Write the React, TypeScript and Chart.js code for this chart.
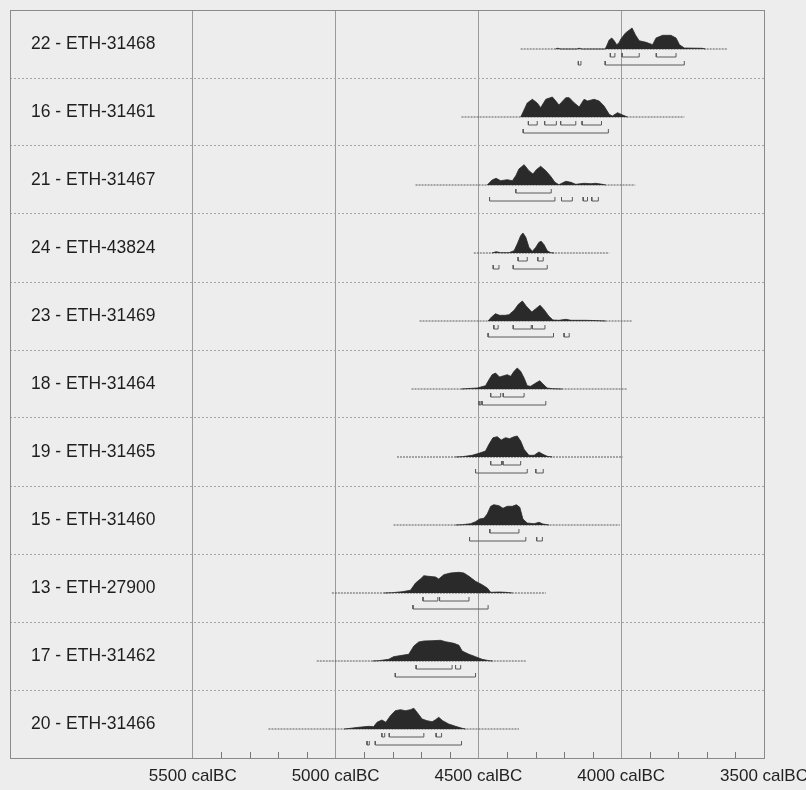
import React, { useEffect, useRef } from 'react';
import { Chart, registerables } from 'chart.js';

Chart.register(...registerables);

// ---------- data ----------
const SAMPLE_LABELS = [
  '22 - ETH-31468',
  '16 - ETH-31461',
  '21 - ETH-31467',
  '24 - ETH-43824',
  '23 - ETH-31469',
  '18 - ETH-31464',
  '19 - ETH-31465',
  '15 - ETH-31460',
  '13 - ETH-27900',
  '17 - ETH-31462',
  '20 - ETH-31466',
];

const TICK_YEARS = [5500, 5000, 4500, 4000, 3500];
const MINOR_TICK_YEARS = [5400, 5300, 5200, 5100, 4900, 4800, 4700, 4600, 4400, 4300, 4200, 4100, 3900, 3800, 3700, 3600];
const AXIS_OLDEST = 6140;
const AXIS_YOUNGEST = 3500;

// 22 - ETH-31468
const S22_YEARS = [4230, 4223, 4212, 4155, 4147, 4138, 4056, 4051, 4042, 4033, 4024, 4016, 4008, 4001, 3985, 3962, 3950, 3937, 3913, 3890, 3878, 3855, 3826, 3808, 3796, 3779, 3715, 3705];
const S22_PROB = [0, 0.8, 0, 0, 0.8, 0, 0, 3, 9, 11, 8, 4.3, 6, 10, 16, 21, 14, 8.3, 6.7, 4.3, 11, 13.7, 13.7, 11, 4.3, 1, 0.7, 0];
const S22_EXTENT = [4352, 3627];
const S22_R68 = [[4038, 4022], [3997, 3937], [3877, 3808]];
const S22_R95 = [[4150, 4141], [4056, 3779]];

// 16 - ETH-31461
const S16_YEARS = [4352, 4345, 4329, 4311, 4294, 4282, 4264, 4241, 4229, 4218, 4194, 4182, 4165, 4147, 4130, 4118, 4095, 4077, 4060, 4042, 4031, 4013, 3995, 3978];
const S16_PROB = [0, 4, 14, 17.7, 14, 9.3, 17.7, 20, 16, 12, 19.3, 19.3, 14.3, 10, 17.7, 16, 17.7, 16, 11, 2.7, 1, 4.3, 2, 0];
const S16_EXTENT = [4559, 3779];
const S16_R68 = [[4325, 4294], [4268, 4227], [4212, 4159], [4137, 4069]];
const S16_R95 = [[4343, 4045]];

// 21 - ETH-31467
const S21_YEARS = [4469, 4452, 4438, 4422, 4399, 4381, 4369, 4358, 4340, 4323, 4309, 4297, 4282, 4264, 4247, 4232, 4218, 4194, 4176, 4159, 4130, 4106, 4089, 4066, 4054];
const S21_PROB = [0, 5, 6.7, 4.3, 5.3, 4.3, 9.3, 16, 20.3, 14.3, 11, 15.3, 18.7, 14.3, 8.7, 2.7, 0.3, 3.7, 2.7, 0.7, 1.7, 1.3, 1.7, 0.7, 0];
const S21_EXTENT = [4720, 3951];
const S21_R68 = [[4369, 4245]];
const S21_R95 = [[4461, 4232], [4209, 4171], [4133, 4118], [4103, 4080]];

// 24 - ETH-43824
const S24_YEARS = [4452, 4438, 4422, 4393, 4375, 4364, 4352, 4344, 4334, 4323, 4311, 4299, 4288, 4280, 4270, 4259, 4247, 4235];
const S24_PROB = [0, 1.3, 0.3, 0.3, 2.3, 9, 17.3, 20, 15.7, 5.7, 1.7, 5.7, 10.7, 11.7, 8.3, 2.3, 0.3, 0];
const S24_EXTENT = [4516, 4042];
const S24_R68 = [[4361, 4329], [4292, 4273]];
const S24_R95 = [[4448, 4428], [4378, 4259]];

// 23 - ETH-31469
const S23_YEARS = [4466, 4454, 4440, 4426, 4407, 4393, 4375, 4360, 4346, 4332, 4313, 4299, 4284, 4270, 4253, 4239, 4218, 4194, 4176, 4124, 4077, 4054];
const S23_PROB = [0, 4, 7.3, 5.7, 5.7, 6.3, 10.7, 16.7, 20, 14.7, 9, 12.3, 15.7, 11.3, 4.7, 1, 0.7, 1.7, 0.7, 0.7, 0.3, 0];
const S23_EXTENT = [4706, 3962];
const S23_R68 = [[4446, 4431], [4378, 4315], [4311, 4267]];
const S23_R95 = [[4466, 4237], [4200, 4182]];

// 18 - ETH-31464
const S18_YEARS = [4560, 4545, 4504, 4475, 4463, 4452, 4440, 4426, 4411, 4399, 4387, 4375, 4364, 4352, 4340, 4329, 4317, 4299, 4285, 4274, 4259, 4241, 4206];
const S18_PROB = [0, 0.3, 1, 3.3, 9.3, 14.3, 16, 12, 13.3, 14.3, 12.7, 17.7, 21, 17.7, 11, 3.3, 2.7, 6, 8.3, 5, 1, 0.3, 0];
const S18_EXTENT = [4734, 3978];
const S18_R68 = [[4457, 4422], [4413, 4340]];
const S18_R95 = [[4498, 4491], [4487, 4264]];

// 19 - ETH-31465
const S19_YEARS = [4580, 4557, 4522, 4498, 4475, 4463, 4449, 4434, 4420, 4405, 4391, 4375, 4364, 4352, 4340, 4323, 4305, 4288, 4274, 4259, 4241];
const S19_PROB = [0, 0.3, 1.7, 3.7, 6, 12.7, 19.3, 20.3, 17, 19.3, 18.3, 20.3, 21, 16, 7.7, 1.7, 1.7, 5, 2.7, 0.7, 0];
const S19_EXTENT = [4785, 3995];
const S19_R68 = [[4457, 4419], [4414, 4352]];
const S19_R95 = [[4510, 4329], [4299, 4273]];

// 15 - ETH-31460
const S15_YEARS = [4580, 4557, 4527, 4510, 4496, 4481, 4469, 4457, 4446, 4428, 4414, 4399, 4381, 4367, 4355, 4344, 4329, 4305, 4288, 4274, 4253];
const S15_PROB = [0, 0.3, 1.3, 3.3, 6, 6.7, 11, 18.7, 20.3, 19.3, 16.7, 18.7, 18.7, 20.3, 17.7, 6, 2, 1.3, 2.7, 1, 0];
const S15_EXTENT = [4797, 4005];
const S15_R68 = [[4460, 4358]];
const S15_R95 = [[4531, 4334], [4296, 4276]];

// 13 - ETH-27900
const S13_YEARS = [4830, 4802, 4767, 4738, 4720, 4703, 4691, 4674, 4650, 4639, 4621, 4598, 4568, 4551, 4533, 4510, 4487, 4469, 4457, 4428, 4405, 4381];
const S13_PROB = [0, 0.3, 1.3, 2.7, 10, 14, 17.3, 16.7, 16, 14, 18.3, 20, 20.7, 20, 16.7, 11.7, 8.3, 5, 0.7, 1, 0.7, 0];
const S13_EXTENT = [5013, 4264];
const S13_R68 = [[4694, 4642], [4636, 4533]];
const S13_R95 = [[4729, 4466]];

// 17 - ETH-31462
const S17_YEARS = [4870, 4849, 4814, 4797, 4767, 4744, 4726, 4709, 4691, 4662, 4633, 4615, 4586, 4568, 4557, 4533, 4510, 4487, 4463, 4450];
const S17_PROB = [0, 0.3, 1.7, 4.3, 5.7, 6.7, 15, 19, 20, 20.3, 20.7, 19.3, 17.7, 15.7, 10, 6.7, 4.3, 1.7, 0.3, 0];
const S17_EXTENT = [5066, 4331];
const S17_R68 = [[4718, 4592], [4580, 4562]];
const S17_R95 = [[4791, 4510]];

// 20 - ETH-31466
const S20_YEARS = [4970, 4948, 4919, 4884, 4867, 4855, 4838, 4824, 4808, 4791, 4773, 4755, 4738, 4726, 4715, 4697, 4680, 4662, 4650, 4639, 4625, 4604, 4580, 4557, 4545];
const S20_PROB = [0, 0.7, 1.7, 2.7, 2.3, 6.7, 9, 6.7, 13.3, 18.3, 19.3, 18.3, 19.3, 20.7, 16.7, 10, 8.3, 7.3, 9.3, 11.7, 8.3, 5, 2.7, 0.7, 0];
const S20_EXTENT = [5235, 4358];
const S20_R68 = [[4838, 4828], [4812, 4691], [4648, 4629]];
const S20_R95 = [[4890, 4882], [4861, 4559]];

const SAMPLE_YEARS = [S22_YEARS, S16_YEARS, S21_YEARS, S24_YEARS, S23_YEARS, S18_YEARS, S19_YEARS, S15_YEARS, S13_YEARS, S17_YEARS, S20_YEARS];
const SAMPLE_PROB = [S22_PROB, S16_PROB, S21_PROB, S24_PROB, S23_PROB, S18_PROB, S19_PROB, S15_PROB, S13_PROB, S17_PROB, S20_PROB];
const SAMPLE_EXTENT = [S22_EXTENT, S16_EXTENT, S21_EXTENT, S24_EXTENT, S23_EXTENT, S18_EXTENT, S19_EXTENT, S15_EXTENT, S13_EXTENT, S17_EXTENT, S20_EXTENT];
const SAMPLE_R68 = [S22_R68, S16_R68, S21_R68, S24_R68, S23_R68, S18_R68, S19_R68, S15_R68, S13_R68, S17_R68, S20_R68];
const SAMPLE_R95 = [S22_R95, S16_R95, S21_R95, S24_R95, S23_R95, S18_R95, S19_R95, S15_R95, S13_R95, S17_R95, S20_R95];

// ---------- styling / geometry (row units) ----------
const ROW_PX = 68;
const BASE_FROM_TOP = 39 / ROW_PX;
const PROB_SCALE = 1 / ROW_PX;
const R68_DROP = 8 / ROW_PX;
const R95_DROP = 16 / ROW_PX;
const BRACKET_TICK = 4 / ROW_PX;
const NARROW = "'Liberation Sans Narrow', 'Arial Narrow', 'Liberation Sans', Arial, sans-serif";
const BG = '#ededed';
const INK = '#2a2a2a';
const LINE = '#5a5a5a';

function buildDatasets() {
  const n = SAMPLE_LABELS.length;
  const ds: any[] = [];
  for (let k = 0; k < n; k++) {
    const base = n - k - BASE_FROM_TOP;
    const years = SAMPLE_YEARS[k];
    const prob = SAMPLE_PROB[k];
    ds.push({
      data: years.map((yr, i) => ({ x: yr, y: base + prob[i] * PROB_SCALE })),
      showLine: true,
      pointRadius: 0,
      borderColor: INK,
      borderWidth: 0.8,
      backgroundColor: INK,
      fill: { value: base },
      tension: 0,
    });
    const ext = SAMPLE_EXTENT[k];
    ds.push({
      data: [{ x: ext[0], y: base }, { x: ext[1], y: base }],
      showLine: true,
      pointRadius: 0,
      borderColor: LINE,
      borderWidth: 1,
      borderDash: [2, 1],
      fill: false,
    });
    const addBrackets = (ranges: number[][], drop: number) => {
      for (const r of ranges) {
        const y = base - drop;
        ds.push({
          data: [
            { x: r[0], y: y + BRACKET_TICK },
            { x: r[0], y },
            { x: r[1], y },
            { x: r[1], y: y + BRACKET_TICK },
          ],
          showLine: true,
          pointRadius: 0,
          borderColor: LINE,
          borderWidth: 1,
          fill: false,
        });
      }
    };
    addBrackets(SAMPLE_R68[k], R68_DROP);
    addBrackets(SAMPLE_R95[k], R95_DROP);
  }
  return ds;
}

const decorPlugin = {
  id: 'decor',
  beforeDraw(chart: any) {
    const { ctx } = chart;
    ctx.save();
    ctx.fillStyle = BG;
    ctx.fillRect(0, 0, chart.width, chart.height);
    ctx.restore();
  },
  afterDraw(chart: any) {
    const { ctx, chartArea, scales } = chart;
    const xs = scales.x;
    const ys = scales.y;
    ctx.save();
    // minor ticks
    ctx.strokeStyle = '#777';
    ctx.lineWidth = 1;
    for (const v of MINOR_TICK_YEARS) {
      const px = Math.round(xs.getPixelForValue(v)) + 0.5;
      ctx.beginPath();
      ctx.moveTo(px, chartArea.bottom);
      ctx.lineTo(px, chartArea.bottom - 6);
      ctx.stroke();
    }
    // frame
    ctx.strokeStyle = '#8a8a8a';
    ctx.strokeRect(
      Math.round(chartArea.left) + 0.5,
      Math.round(chartArea.top) + 0.5,
      Math.round(chartArea.right - chartArea.left),
      Math.round(chartArea.bottom - chartArea.top)
    );
    // row labels
    ctx.fillStyle = '#1e1e1e';
    ctx.font = `17.5px ${NARROW}`;
    ctx.textBaseline = 'middle';
    ctx.textAlign = 'left';
    const n = SAMPLE_LABELS.length;
    SAMPLE_LABELS.forEach((lab, k) => {
      const y = ys.getPixelForValue(n - k - 0.5);
      ctx.fillText(lab, chartArea.left + 21, y);
    });
    ctx.restore();
  },
};

export default function App() {
  const ref = useRef<HTMLCanvasElement | null>(null);
  useEffect(() => {
    document.body.style.margin = '0';
    document.body.style.background = BG;
    const canvas = ref.current!;
    const chart = new Chart(canvas, {
      type: 'scatter',
      data: { datasets: buildDatasets() },
      options: {
        animation: false,
        responsive: false,
        devicePixelRatio: 1,
        events: [],
        layout: { padding: { left: 10, top: 10, right: 42, bottom: 0 } },
        plugins: { legend: { display: false }, tooltip: { enabled: false } },
        scales: {
          x: {
            type: 'linear',
            min: AXIS_YOUNGEST,
            max: AXIS_OLDEST,
            reverse: true,
            afterBuildTicks: (scale: any) => {
              scale.ticks = TICK_YEARS.map((v) => ({ value: v }));
            },
            afterFit: (scale: any) => {
              scale.height = 32;
              scale.paddingLeft = 0;
              scale.paddingRight = 0;
            },
            grid: { color: '#9a9a9a', lineWidth: 1, drawTicks: false },
            border: { display: false },
            ticks: {
              autoSkip: false,
              maxRotation: 0,
              padding: 8,
              color: '#222',
              font: { family: NARROW, size: 17 },
              callback: (v: any) => `${v} calBC`,
            },
          },
          y: {
            type: 'linear',
            min: 0,
            max: SAMPLE_LABELS.length,
            ticks: { stepSize: 1, display: false },
            afterFit: (scale: any) => {
              scale.width = 0;
              scale.paddingTop = 0;
              scale.paddingBottom = 0;
            },
            grid: {
              drawTicks: false,
              lineWidth: 1,
              color: (c: any) =>
                c.tick && (c.tick.value === 0 || c.tick.value === SAMPLE_LABELS.length) ? 'rgba(0,0,0,0)' : '#a5a5a5',
            },
            border: { display: false, dash: [2, 2] },
          },
        },
      },
      plugins: [decorPlugin],
    });
    return () => chart.destroy();
  }, []);
  return (
    <div style={{ width: 806, height: 790, background: BG }}>
      <canvas ref={ref} width={806} height={790} style={{ display: 'block', width: 806, height: 790 }} />
    </div>
  );
}
